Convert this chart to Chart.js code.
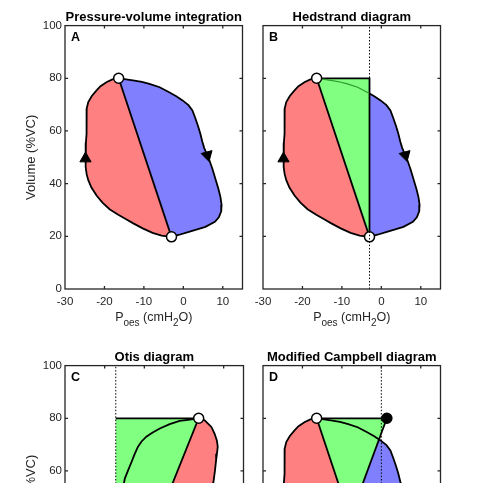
<!DOCTYPE html>
<html>
<head>
<meta charset="utf-8">
<title>Work of breathing diagrams</title>
<script src="https://cdn.jsdelivr.net/npm/chart.js@4.4.1/dist/chart.umd.min.js"></script>
<style>
  html, body { margin: 0; padding: 0; background: #fff; width: 483px; height: 483px; overflow: hidden; }
  #wrap { position: relative; width: 483px; height: 483px; overflow: hidden; }
  canvas { position: absolute; }
</style>
</head>
<body>
<div id="wrap">
  <canvas id="panelA" width="250" height="340" style="left:0px;top:0px;"></canvas>
  <canvas id="panelB" width="250" height="340" style="left:198px;top:0px;"></canvas>
  <canvas id="panelC" width="250" height="340" style="left:0px;top:340px;"></canvas>
  <canvas id="panelD" width="250" height="340" style="left:198px;top:340px;"></canvas>
</div>
<script>
// Ejes
const xTicks = [-30, -20, -10, 0, 10];
const yTicks = [0, 20, 40, 60, 80, 100];
const panelTitles = ['Pressure-volume integration', 'Hedstrand diagram', 'Otis diagram', 'Modified Campbell diagram'];
const panelLetters = ['A', 'B', 'C', 'D'];

// Lazo presion-volumen (Poes, %VC): rama inspiratoria (izq.) y espiratoria (der.), de arriba a abajo
const loopTop = { x: -16.4, y: 80 };
const loopBottom = { x: -3, y: 19.8 };
const leftBranch = [
    { x: -16.4, y: 80 }, { x: -18.0, y: 79.6 }, { x: -19.5, y: 78.5 }, { x: -21.0, y: 77.0 },
    { x: -22.0, y: 75.4 }, { x: -23.2, y: 73.3 }, { x: -24.1, y: 71.0 }, { x: -24.5, y: 68.5 },
    { x: -24.5, y: 65.0 }, { x: -24.5, y: 62.0 }, { x: -24.6, y: 59.0 }, { x: -24.7, y: 55.5 },
    { x: -24.8, y: 52.5 }, { x: -24.8, y: 49.5 }, { x: -24.7, y: 46.3 }, { x: -24.5, y: 43.5 },
    { x: -24.1, y: 41.3 }, { x: -23.3, y: 38.5 }, { x: -22.0, y: 35.5 }, { x: -20.5, y: 32.8 },
    { x: -18.7, y: 30.3 }, { x: -16.5, y: 28.2 }, { x: -14.5, y: 26.5 }, { x: -12.8, y: 25.0 },
    { x: -10.3, y: 23.0 }, { x: -7.8, y: 21.3 }, { x: -5.5, y: 20.3 }, { x: -3.0, y: 19.8 }
];
const rightBranch = [
    { x: -16.4, y: 80 }, { x: -14.5, y: 79.6 }, { x: -12.8, y: 79.2 }, { x: -10.5, y: 78.6 },
    { x: -8.6, y: 77.9 }, { x: -6.0, y: 76.6 }, { x: -3.6, y: 74.7 }, { x: -1.8, y: 73.2 },
    { x: -0.2, y: 71.6 }, { x: 1.3, y: 69.8 }, { x: 2.3, y: 67.8 }, { x: 3.0, y: 65.0 },
    { x: 3.7, y: 62.0 }, { x: 4.3, y: 59.0 }, { x: 4.8, y: 56.0 }, { x: 5.3, y: 53.5 },
    { x: 6.0, y: 51.0 }, { x: 6.7, y: 48.5 }, { x: 7.4, y: 45.5 }, { x: 8.2, y: 41.5 },
    { x: 8.9, y: 38.0 }, { x: 9.4, y: 35.0 }, { x: 9.7, y: 32.0 }, { x: 9.6, y: 29.5 },
    { x: 9.0, y: 27.2 }, { x: 8.0, y: 25.5 }, { x: 5.6, y: 23.6 }, { x: 3.5, y: 22.6 },
    { x: 1.4, y: 21.7 }, { x: -1.0, y: 20.6 }, { x: -3.0, y: 19.8 }
];
const arrowUp = [{ x: -24.8, y: 49.5 }];
const arrowDown = [{ x: 6.1, y: 50.8 }];

// Hedstrand
const hedstrandX = -3;
const hedstrandCross = { x: -3, y: 74.2 };

// Otis
const otisEdgeX = -17.2;
const otisTop = { x: 3.7, y: 80 };
const otisBottom = { x: -12.3, y: 20 };
const otisRight = [
    { x: 3.7, y: 80 }, { x: 5.2, y: 79.2 }, { x: 6.9, y: 76.7 }, { x: 7.7, y: 74.2 },
    { x: 8.3, y: 71.5 }, { x: 8.5, y: 69.2 }, { x: 8.3, y: 66.5 }, { x: 8.1, y: 64.2 },
    { x: 7.8, y: 60.0 }, { x: 7.4, y: 55.6 }, { x: 6.9, y: 52.0 }, { x: 6.3, y: 48.0 },
    { x: 5.4, y: 44.0 }, { x: 4.2, y: 40.0 }, { x: 2.5, y: 35.5 }, { x: 0.5, y: 31.5 },
    { x: -2.0, y: 27.5 }, { x: -5.0, y: 24.5 }, { x: -8.5, y: 21.8 }, { x: -12.3, y: 20 }
];
const otisCurve = [
    { x: 3.7, y: 80 }, { x: 1.0, y: 79.4 }, { x: -1.1, y: 79.0 }, { x: -3.6, y: 77.8 },
    { x: -6.1, y: 76.1 }, { x: -8.0, y: 74.5 }, { x: -9.5, y: 73.0 }, { x: -10.7, y: 71.2 },
    { x: -11.6, y: 69.2 }, { x: -12.5, y: 66.2 }, { x: -13.2, y: 63.5 }, { x: -14.1, y: 60.2 },
    { x: -14.9, y: 57.2 }, { x: -15.6, y: 52.0 }, { x: -16.3, y: 46.0 }, { x: -16.8, y: 40.0 },
    { x: -16.9, y: 34.0 }, { x: -16.4, y: 29.0 }, { x: -15.4, y: 25.0 }, { x: -14.0, y: 22.0 },
    { x: -12.3, y: 20 }
];

// Campbell modificado
const campbellX = 0;
const endInsp = { x: 1.4, y: 80 };
const cwApex = { x: -7.9, y: 42.2 };
const cwLine = [{ x: 1.4, y: 80 }, { x: -13.4, y: 20 }];

// Estilo
const axisColor = '#262626';
const redFill = '#ff8080';
const blueFill = '#8080ff';
const greenFill = '#80ff80';
Chart.defaults.font.family = '"Liberation Sans", Arial, Helvetica, sans-serif';

function area(data, color, order) {
    return { data: [...data], fill: 'shape', backgroundColor: color, borderColor: 'rgba(0,0,0,0)', borderWidth: 0, pointRadius: 0, tension: 0, order };
}
function stroke(data, color = '#000', width = 1.8, dash = [], order = 5) {
    return { data: [...data], fill: false, borderColor: color, borderWidth: width, borderDash: dash, pointRadius: 0, tension: 0, order };
}
function vline(xv) {
    return stroke([{ x: xv, y: 0 }, { x: xv, y: 100 }], '#000', 1, [1.5, 1.8], 1);
}
function dots(data, color) {
    return { data: [...data], showLine: false, pointRadius: 5, pointBackgroundColor: color, pointBorderColor: '#000', pointBorderWidth: 1.5, order: 2 };
}
function arrows(data, rotation) {
    return { data: [...data], showLine: false, pointStyle: 'triangle', pointRadius: 6.5, pointRotation: rotation, pointBackgroundColor: '#000', pointBorderColor: '#000', pointBorderWidth: 1, order: 2 };
}

// Marco, marcas interiores, letra y etiqueta con subindices
const framePlugin = {
    id: 'frame',
    afterDraw(chart, args, opts) {
        const { ctx, chartArea: a, scales: { x, y } } = chart;
        ctx.save();
        ctx.strokeStyle = axisColor;
        ctx.lineWidth = 1.3;
        ctx.beginPath();
        xTicks.slice(1).forEach(v => {
            const px = x.getPixelForValue(v);
            ctx.moveTo(px, a.bottom); ctx.lineTo(px, a.bottom - 3);
            ctx.moveTo(px, a.top); ctx.lineTo(px, a.top + 3);
        });
        yTicks.slice(1, -1).forEach(v => {
            const py = y.getPixelForValue(v);
            ctx.moveTo(a.left, py); ctx.lineTo(a.left + 3, py);
            ctx.moveTo(a.right, py); ctx.lineTo(a.right - 3, py);
        });
        ctx.stroke();
        ctx.strokeRect(a.left, a.top, a.width, a.height);

        ctx.fillStyle = '#000';
        ctx.textBaseline = 'alphabetic';
        ctx.font = 'bold 12.5px ' + Chart.defaults.font.family;
        ctx.fillText(opts.letter, a.left + 6, a.top + 15.5);

        // P_oes (cmH2O)
        const big = '12.5px ' + Chart.defaults.font.family;
        const small = '10px ' + Chart.defaults.font.family;
        const parts = [['P', big, 0], ['oes', small, 5], [' (cmH', big, 0], ['2', small, 5], ['O)', big, 0]];
        let total = 0;
        parts.forEach(p => { ctx.font = p[1]; total += ctx.measureText(p[0]).width; });
        let cx = (a.left + a.right) / 2 - total / 2;
        const base = a.bottom + 32;
        ctx.fillStyle = axisColor;
        parts.forEach(p => {
            ctx.font = p[1];
            ctx.fillText(p[0], cx, base + p[2]);
            cx += ctx.measureText(p[0]).width;
        });
        ctx.restore();
    }
};

function makeOptions(i, showY) {
    return {
        responsive: false,
        animation: false,
        events: [],
        layout: { padding: { top: 10, right: 5, bottom: 0, left: 0 } },
        plugins: {
            legend: { display: false },
            tooltip: { enabled: false },
            title: {
                display: true, text: panelTitles[i], fullSize: false, color: '#000',
                font: { size: 13, weight: 'bold' }, padding: { top: 0, bottom: 0 }
            },
            frame: { letter: panelLetters[i] }
        },
        scales: {
            x: {
                type: 'linear', min: -30, max: 15,
                afterBuildTicks: s => { s.ticks = xTicks.map(v => ({ value: v })); },
                afterFit: s => { s.height = 51; },
                grid: { display: false, drawTicks: false, tickLength: 0 }, border: { display: false },
                ticks: { color: axisColor, font: { size: 11.5 }, padding: 5.5, maxRotation: 0, autoSkip: false }
            },
            y: {
                type: 'linear', min: 0, max: 100,
                afterBuildTicks: s => { s.ticks = yTicks.map(v => ({ value: v })); },
                afterFit: s => { s.width = 65; },
                grid: { display: false, drawTicks: false, tickLength: 0 }, border: { display: false },
                ticks: { display: showY, color: axisColor, font: { size: 11.5 }, padding: 3, autoSkip: false },
                title: {
                    display: showY, text: 'Volume (%VC)', color: axisColor,
                    font: { size: 13 }, padding: { top: 24, bottom: 0 }
                }
            }
        }
    };
}

function makeChart(id, i, showY, datasets) {
    return new Chart(document.getElementById(id), {
        type: 'line',
        data: { datasets },
        options: makeOptions(i, showY),
        plugins: [framePlugin]
    });
}

// A: integracion presion-volumen
makeChart('panelA', 0, true, [
    area(leftBranch, redFill, 10),
    area(rightBranch, blueFill, 10),
    stroke(leftBranch),
    stroke(rightBranch),
    stroke([loopTop, loopBottom]),
    dots([loopTop, loopBottom], '#fff'),
    arrows(arrowUp, 0),
    arrows(arrowDown, 165)
]);

// B: Hedstrand
makeChart('panelB', 1, false, [
    area(leftBranch, redFill, 10),
    area(rightBranch, blueFill, 10),
    area([loopTop, { x: hedstrandX, y: 80 }, loopBottom], greenFill, 9),
    stroke(leftBranch),
    stroke([hedstrandCross, ...rightBranch.filter(p => p.x >= hedstrandX)]),
    stroke([...rightBranch.filter(p => p.x < hedstrandX), hedstrandCross], '#2f9a2f', 1.2),
    stroke([loopTop, { x: hedstrandX, y: 80 }, loopBottom]),
    stroke([loopTop, loopBottom]),
    vline(hedstrandX),
    dots([loopTop, loopBottom], '#fff'),
    arrows(arrowUp, 0),
    arrows(arrowDown, 165)
]);

// C: Otis
makeChart('panelC', 2, true, [
    area([{ x: otisEdgeX, y: 80 }, otisTop, otisBottom, { x: otisEdgeX, y: 20 }], greenFill, 10),
    area(otisRight, redFill, 10),
    stroke(otisCurve),
    stroke(otisRight),
    stroke([{ x: otisEdgeX, y: 80 }, otisTop]),
    stroke([otisTop, otisBottom]),
    vline(otisEdgeX),
    dots([otisTop, otisBottom], '#fff')
]);

// D: Campbell modificado
makeChart('panelD', 3, false, [
    area(leftBranch, redFill, 10),
    area(rightBranch, blueFill, 10),
    area([loopTop, endInsp, cwApex], greenFill, 9),
    stroke(leftBranch),
    stroke(rightBranch),
    stroke([loopTop, loopBottom]),
    stroke([loopTop, endInsp]),
    stroke(cwLine),
    vline(campbellX),
    dots([loopTop, loopBottom], '#fff'),
    dots([endInsp], '#000'),
    arrows(arrowUp, 0),
    arrows(arrowDown, 165)
]);
</script>
</body>
</html>
